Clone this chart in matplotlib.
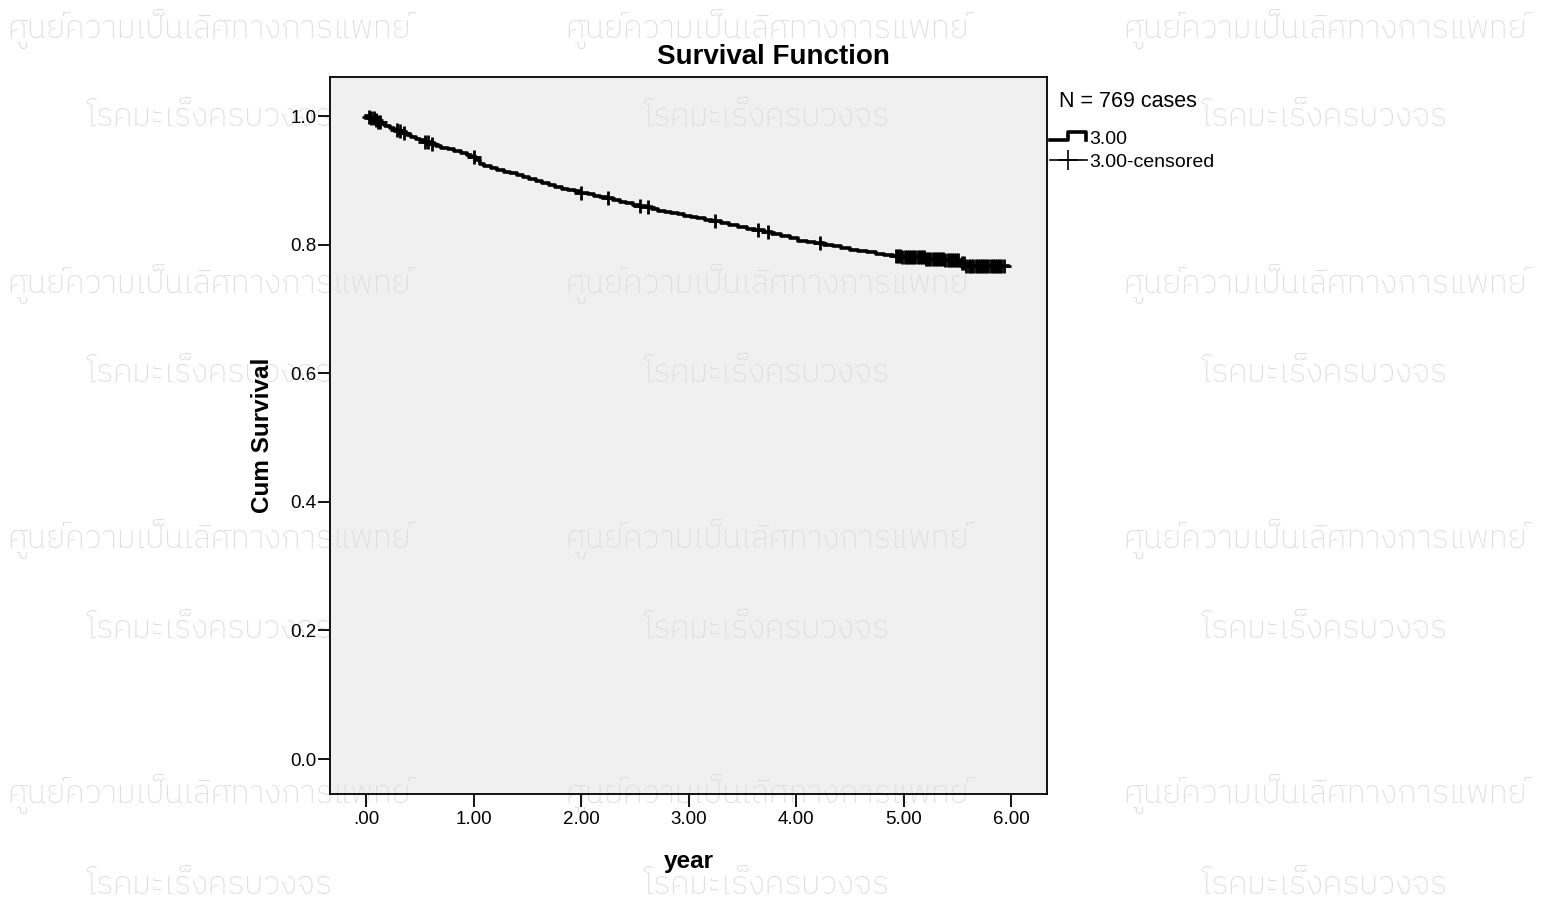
import numpy as np
import matplotlib
matplotlib.use("Agg")
import matplotlib.pyplot as plt
from matplotlib.lines import Line2D
from matplotlib.legend_handler import HandlerBase
from matplotlib import font_manager

# Kaplan-Meier estimate (time in years, cum survival after event)
event_times = [0, 0.02, 0.05, 0.08, 0.11, 0.14, 0.18, 0.22, 0.26, 0.30,
               0.34, 0.38, 0.42, 0.46, 0.50, 0.55, 0.60, 0.65, 0.70, 0.76,
               0.82, 0.88, 0.94, 0.98, 1.02, 1.06, 1.10, 1.16, 1.22, 1.28,
               1.34, 1.40, 1.46, 1.52, 1.58, 1.64, 1.70, 1.76, 1.82, 1.88,
               1.94, 2.00, 2.06, 2.12, 2.18, 2.24, 2.30, 2.36, 2.42, 2.48,
               2.54, 2.60, 2.66, 2.72, 2.78, 2.84, 2.90, 2.96, 3.02, 3.08,
               3.15, 3.22, 3.30, 3.38, 3.46, 3.54, 3.62, 3.70, 3.78, 3.86,
               3.94, 4.02, 4.10, 4.18, 4.26, 4.34, 4.42, 4.50, 4.58, 4.66,
               4.74, 4.82, 4.90, 4.98, 5.20, 5.38, 5.53, 5.58]
cum_surv = [1.0, 0.9987, 0.997, 0.994, 0.991, 0.988, 0.985, 0.982, 0.979, 0.976,
            0.973, 0.970, 0.967, 0.965, 0.962, 0.959, 0.956, 0.953, 0.951, 0.948,
            0.946, 0.943, 0.940, 0.936, 0.931, 0.926, 0.922, 0.919, 0.916, 0.913,
            0.911, 0.908, 0.905, 0.902, 0.899, 0.896, 0.893, 0.890, 0.887, 0.885,
            0.883, 0.881, 0.879, 0.876, 0.874, 0.872, 0.870, 0.867, 0.865, 0.862,
            0.860, 0.858, 0.855, 0.853, 0.851, 0.849, 0.847, 0.845, 0.843, 0.841,
            0.839, 0.837, 0.834, 0.831, 0.828, 0.825, 0.822, 0.819, 0.816, 0.813,
            0.810, 0.806, 0.804, 0.802, 0.800, 0.798, 0.795, 0.792, 0.790, 0.788,
            0.786, 0.784, 0.782, 0.780, 0.778, 0.776, 0.771, 0.767]
last_followup = 5.97

censored_times = [0.03, 0.05, 0.07, 0.09, 0.11, 0.13, 0.29, 0.32, 0.35, 0.55, 0.58, 0.61,
                  1.00, 2.00, 2.25, 2.55, 2.62, 3.25, 3.65, 3.74, 4.22,
                  4.93, 4.95, 4.97, 4.99, 5.01, 5.03, 5.05, 5.07, 5.09, 5.11, 5.13, 5.15,
                  5.17, 5.19, 5.21, 5.23, 5.25, 5.27, 5.29, 5.31, 5.33, 5.35, 5.37, 5.39,
                  5.41, 5.43, 5.45, 5.47, 5.49, 5.51, 5.54, 5.56, 5.58, 5.61, 5.63, 5.65,
                  5.67, 5.69, 5.71, 5.73, 5.75, 5.77, 5.79, 5.81, 5.83, 5.85, 5.87, 5.89,
                  5.91, 5.93]

n_cases = 769
group = "3.00"
xticks = [0, 1, 2, 3, 4, 5, 6]
xtick_labels = [".00", "1.00", "2.00", "3.00", "4.00", "5.00", "6.00"]
yticks = [0.0, 0.2, 0.4, 0.6, 0.8, 1.0]

wm_center = "ศูนย์ความเป็นเลิศทางการแพทย์"
wm_disease = "โรคมะเร็งครบวงจร"

thai_fonts = sorted({f.name for f in font_manager.fontManager.ttflist if "Thai" in f.name})
sans_thai = [n for n in thai_fonts if "Sans" in n and "Looped" not in n]
font_list = (sans_thai or thai_fonts)[:1] + ["DejaVu Sans"]

plt.rcParams['font.family'] = ['Liberation Sans', 'DejaVu Sans']

fig = plt.figure(figsize=(15.43, 9.21), dpi=100)
ax = fig.add_axes([0.2139, 0.1379, 0.4647, 0.7785])
ax.set_facecolor("#f0f0f0")

t = np.array(event_times + [last_followup])
s = np.array(cum_surv + [cum_surv[-1]])
ax.step(t, s, where="post", color="black", lw=2.6, zorder=3)

ct = np.array(censored_times)
idx = np.searchsorted(np.array(event_times), ct, side="right") - 1
cs = np.array(cum_surv)[idx]
ax.plot(ct, cs, linestyle="none", marker="+", ms=10, mew=2.0, color="black", zorder=4)

ax.set_xlim(-0.335, 6.335)
ax.set_ylim(-0.0544, 1.0607)
ax.set_xticks(xticks)
ax.set_xticklabels(xtick_labels)
ax.set_yticks(yticks)
ax.set_yticklabels([f"{v:.1f}" for v in yticks])
ax.tick_params(axis="both", direction="out", length=8.5, width=1.3, labelsize=13.5, colors="black")
ax.tick_params(axis="y", pad=1)
ax.tick_params(axis="x", length=9, pad=3)
for sp in ax.spines.values():
    sp.set_linewidth(1.3)

fig.text(773 / 1543, 1 - 57 / 921, "Survival Function", fontsize=20, fontweight="bold",
         ha="center", va="center")
ax.set_xlabel("year", fontsize=17.5, fontweight="bold", labelpad=16)
ax.set_ylabel("Cum Survival", fontsize=17.5, fontweight="bold", labelpad=12)


class StepHandler(HandlerBase):
    def create_artists(self, legend, orig_handle, xdescent, ydescent, width, height, fontsize, trans):
        w = width
        h = height
        xs = [-xdescent, 0.5 * w, 0.5 * w, 0.97 * w, 0.97 * w]
        ys = [0.25 * h, 0.25 * h, 0.85 * h, 0.85 * h, 0.25 * h]
        ln = Line2D(xs, ys, color="black", lw=2.6, transform=trans)
        return [ln]


step_handle = Line2D([], [], color="black")
cens_handle = Line2D([0], [0], color="black", lw=1.2, marker="+", ms=15, mew=1.2)
fig.text(1059 / 1543, 1 - 101 / 921, f"N = {n_cases} cases", fontsize=15.5,
         ha="left", va="center")
leg = fig.legend([step_handle, cens_handle], [group, group + "-censored"],
                 handler_map={step_handle: StepHandler()},
                 loc="upper left", bbox_to_anchor=(1050 / 1543, 1 - 130 / 921), frameon=False,
                 fontsize=14, handlelength=1.9, handletextpad=0.1, labelspacing=0.3,
                 borderpad=0, borderaxespad=0)

# watermark (drawn inside the axes so tick labels stay on top)
wm_color = "#dedede"
for yc in [30, 285, 540, 795]:
    for xc in [209, 767, 1325]:
        ax.text(xc / 1543, 1 - yc / 921, wm_center, ha="center", va="center", fontsize=23.2,
                color=wm_color, family=font_list, fontweight="light",
                transform=fig.transFigure, clip_on=False, zorder=1)
for yc in [117, 373, 630, 885]:
    for xc in [209, 766, 1324]:
        ax.text(xc / 1543, 1 - yc / 921, wm_disease, ha="center", va="center", fontsize=23,
                color=wm_color, family=font_list, fontweight="light",
                transform=fig.transFigure, clip_on=False, zorder=1)

fig.savefig("out.png", dpi=100)
